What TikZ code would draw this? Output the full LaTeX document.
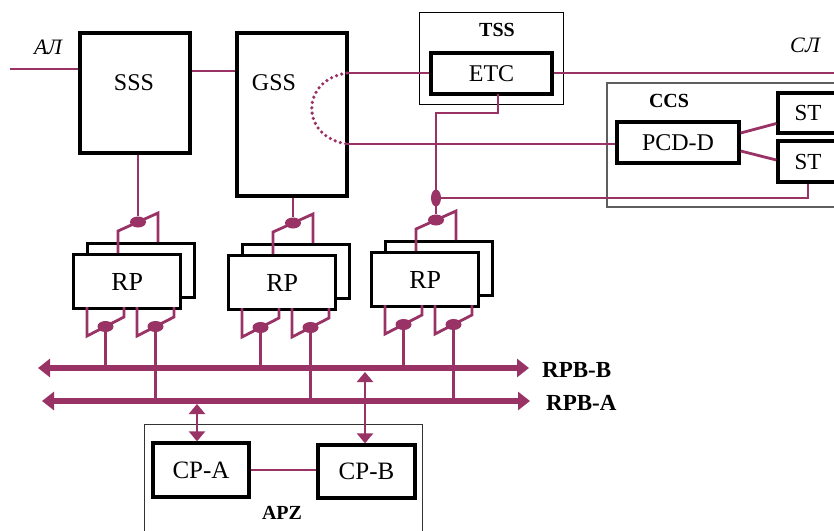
\documentclass[tikz,border=0pt]{standalone}
\usepackage{fontspec}
\setmainfont{Liberation Serif}
\usetikzlibrary{arrows.meta,shapes.geometric,calc}
\definecolor{pl}{RGB}{153,51,102}
\definecolor{grayb}{RGB}{95,95,95}
\begin{document}
\begin{tikzpicture}[x=1pt,y=-1pt,
  blk/.style={draw=black,line width=3.3pt,fill=white,inner sep=0pt,font=\fontsize{24}{26}\selectfont},
  grp/.style={draw=black,line width=1pt,inner sep=0pt},
  conn/.style={draw=pl,line width=2.8pt},
  swdot/.style={ellipse,fill=pl,inner sep=0pt,minimum width=16pt,minimum height=11pt},
  vdot/.style={ellipse,fill=pl,inner sep=0pt,minimum width=10pt,minimum height=17pt},
  bus/.style={draw=pl,line width=5.5pt,{Triangle[length=12pt,width=18pt]}-{Triangle[length=12pt,width=18pt]}},
  dbl/.style={draw=pl,line width=2.8pt,{Triangle[length=10pt,width=16pt]}-{Triangle[length=10pt,width=16pt]}},
  txt/.style={inner sep=0pt,font=\fontsize{24}{26}\selectfont},
  btxt/.style={inner sep=0pt,font=\bfseries\fontsize{20}{22}\selectfont},
  itxt/.style={inner sep=0pt,font=\itshape\fontsize{22}{24}\selectfont}]
\path[use as bounding box,clip] (0,0) rectangle (834,530);
\fill[white] (0,0) rectangle (834,530);

% group frames
\node[grp,minimum width=144pt,minimum height=92pt] (tss) at (491,58) {};
\node[btxt] at (497,30) {TSS};
\node[grp,draw=grayb,line width=1.5pt,minimum width=233pt,minimum height=124pt] (ccs) at (723.5,145) {};
\node[btxt] at (669,101) {CCS};
\node[grp,draw=black!80,minimum width=278pt,minimum height=116pt] (apz) at (283,482) {};
\node[btxt] at (282,513) {APZ};

% main blocks
\node[blk,minimum width=110pt,minimum height=120pt] (sss) at (135,93) {};
\node[txt] at (134,83) {SSS};
\node[blk,minimum width=110pt,minimum height=163pt] (gss) at (292,114.5) {};
\node[txt] at (274,83) {GSS};
\node[blk,minimum width=121pt,minimum height=41pt] (etc) at (491.5,73.5) {ETC};
\node[blk,minimum width=122pt,minimum height=41pt] (pcd) at (678,142.5) {PCD-D};
\node[blk,minimum width=60pt,minimum height=40pt,font=\fontsize{23}{25}\selectfont] (st1) at (808,113) {ST};
\node[blk,minimum width=60pt,minimum height=41pt,font=\fontsize{23}{25}\selectfont] (st2) at (808,161.5) {ST};
\node[blk,minimum width=96pt,minimum height=54pt,font=\fontsize{25}{27}\selectfont] (cpa) at (201,470) {CP-A};
\node[blk,minimum width=97pt,minimum height=53pt,font=\fontsize{25}{27}\selectfont] (cpb) at (366.5,471.5) {CP-B};

% line labels
\node[itxt] at (48,47) {АЛ};
\node[itxt] at (805,45) {СЛ};

% trunk lines
\coordinate (al) at (10,69);
\coordinate (sl) at (840,73);
\coordinate (g1) at (347,73);
\coordinate (g2) at (347,144);
\draw[conn] (al) -- (al -| sss.west);
\draw[conn] (sss.east |- 0,71) -- (gss.west |- 0,71);
\draw[conn] (g1) -- (g1 -| etc.west);
\draw[conn] (etc.east |- sl) -- (sl);
\draw[conn] (g2) -- (g2 -| pcd.west);
\draw[pl,line width=3.6pt,line cap=round,dash pattern=on 0pt off 5.4pt]
  (g1) .. controls (300,80) and (300,137) .. (g2);
\draw[conn] (pcd.east |- 0,133) -- (st1.west |- 0,123.5);
\draw[conn] (pcd.east |- 0,151) -- (st2.west |- 0,160);

% buses
\coordinate (bBl) at (38,368);
\coordinate (bBr) at (529,368);
\coordinate (bAl) at (42,401);
\coordinate (bAr) at (530,401);

% RP units
\foreach \i/\X/\Y in {1/72/253,2/227/254,3/370/251}{
  \node[blk,minimum width=107pt,minimum height=54pt,anchor=north west] (rp\i b) at (\X+14,\Y-11) {};
  \node[blk,minimum width=107pt,minimum height=54pt,anchor=north west,font=\fontsize{26}{28}\selectfont] (rp\i) at (\X,\Y) {RP};
  % top switch
  \coordinate (t\i a) at (\X+46,\Y);
  \coordinate (t\i b) at (\X+46,\Y-22);
  \coordinate (t\i c) at (\X+86,\Y-40);
  \coordinate (t\i d) at (\X+86,\Y-11);
  \draw[conn] (t\i a) -- (t\i b) -- (t\i c) -- (t\i d);
  \node[swdot] (td\i) at ($(t\i b)!0.5!(t\i c)$) {};
  % bottom switches
  \coordinate (p\i a) at (\X+15,\Y+54);
  \coordinate (p\i b) at (\X+15,\Y+83);
  \coordinate (p\i c) at (\X+52,\Y+64);
  \coordinate (p\i d) at (\X+52,\Y+54);
  \draw[conn] (p\i a) -- (p\i b) -- (p\i c) -- (p\i d);
  \node[swdot] (pd\i) at ($(p\i b)!0.5!(p\i c)$) {};
  \coordinate (q\i a) at (\X+65,\Y+54);
  \coordinate (q\i b) at (\X+65,\Y+83);
  \coordinate (q\i c) at (\X+102,\Y+64);
  \coordinate (q\i d) at (\X+102,\Y+54);
  \draw[conn] (q\i a) -- (q\i b) -- (q\i c) -- (q\i d);
  \node[swdot] (qd\i) at ($(q\i b)!0.5!(q\i c)$) {};
  \draw[conn] (pd\i) -- (pd\i |- bBl);
  \draw[conn] (qd\i) -- (qd\i |- bAl);
}

% feeds into RP switches
\draw[conn] (td1 |- sss.south) -- (td1);
\draw[conn] (td2 |- gss.south) -- (td2);
\coordinate (e1) at (498,94);
\coordinate (k1) at (td3 |- 0,113);
\draw[conn] (e1) |- (k1) -- (td3);
\node[vdot] (vd) at (td3 |- 0,198) {};
\draw[conn] (vd.center) -| (st2.south);

% buses drawn
\draw[bus] (bBl) -- (bBr);
\draw[bus] (bAl) -- (bAr);
\node[btxt,anchor=west,font=\bfseries\fontsize{23}{25}\selectfont] (rpbb) at (542,370) {RPB-B};
\node[btxt,anchor=west,font=\bfseries\fontsize{23}{25}\selectfont] (rpba) at (546,403) {RPB-A};

% APZ connections
\coordinate (a1) at (197,404);
\coordinate (a2) at (365,372);
\draw[dbl] (a1) -- (a1 |- cpa.north);
\draw[dbl] (a2) -- (a2 |- cpb.north);
\draw[conn] (cpa.east) -- (cpa.east -| cpb.west);
\end{tikzpicture}
\end{document}
